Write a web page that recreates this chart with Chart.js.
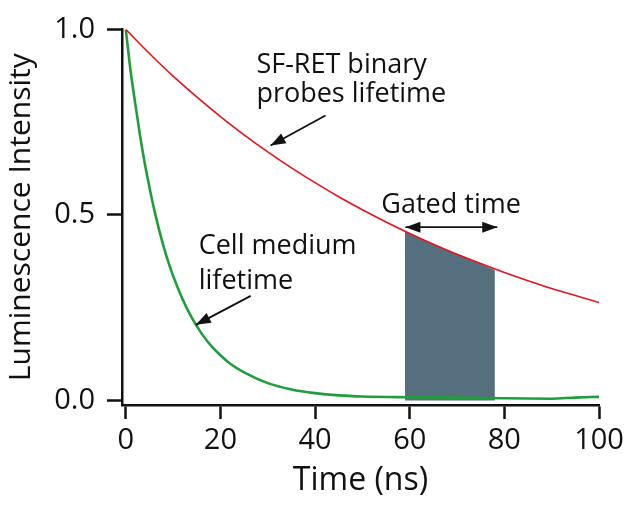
<!DOCTYPE html>
<html>
<head>
<meta charset="utf-8">
<script src="https://cdn.jsdelivr.net/npm/chart.js@4.4.1/dist/chart.umd.min.js"></script>
<style>
  html, body { margin: 0; padding: 0; background: #fff; }
</style>
</head>
<body>
<canvas id="myChart" width="632" height="507"></canvas>
<script>
// time axis (ns) and intensities
const probeTime = [0, 5, 10, 15, 20, 25, 30, 35, 40, 45, 50, 55, 60, 65, 70, 75, 80, 85, 90, 95, 100];
const probeIntensity = [1.0, 0.935, 0.874, 0.818, 0.765, 0.716, 0.67, 0.627, 0.587, 0.549, 0.514, 0.481, 0.45, 0.421, 0.394, 0.369, 0.345, 0.323, 0.302, 0.283, 0.264];

const mediumTime = [0, 1, 2, 3, 4, 5, 6, 7, 8, 9, 10, 12, 14, 16, 18, 20, 22, 25, 30, 35, 40, 45, 50, 60, 70, 80, 90, 95, 100];
const mediumIntensity = [1.0, 0.89, 0.8, 0.715, 0.64, 0.575, 0.515, 0.462, 0.415, 0.373, 0.336, 0.273, 0.222, 0.181, 0.148, 0.122, 0.1, 0.076, 0.047, 0.03, 0.02, 0.014, 0.011, 0.009, 0.008, 0.006, 0.005, 0.008, 0.01];

const gateTime = [59, 62, 65, 68, 71, 74, 78];
const gateIntensity = [0.456, 0.438, 0.421, 0.405, 0.388, 0.373, 0.352];

const xTicks = [0, 20, 40, 60, 80, 100];
const yTicks = [0.0, 0.5, 1.0];

const toPoints = (xs, ys) => xs.map((x, i) => ({ x: x, y: ys[i] }));

const ink = '#111111';
const fontFamily = '"Open Sans", "Noto Sans", sans-serif';

// text labels and arrows, placed in data coordinates
const notes = [
  { text: 'SF-RET binary', x: 27.6, y: 0.883 },
  { text: 'probes lifetime', x: 27.6, y: 0.804 },
  { text: 'Gated time', x: 54.0, y: 0.504 },
  { text: 'Cell medium', x: 15.4, y: 0.394 },
  { text: 'lifetime', x: 15.4, y: 0.30 }
];
const arrows = [
  { from: [42.2, 0.768], to: [30.6, 0.687], both: false },
  { from: [59.1, 0.467], to: [78.5, 0.467], both: true },
  { from: [26.4, 0.282], to: [14.8, 0.204], both: false }
];

function head(ctx, x1, y1, x2, y2) {
  const a = Math.atan2(y2 - y1, x2 - x1);
  const len = 15, w = 5.5;
  ctx.beginPath();
  ctx.moveTo(x2, y2);
  ctx.lineTo(x2 - len * Math.cos(a) + w * Math.sin(a), y2 - len * Math.sin(a) - w * Math.cos(a));
  ctx.lineTo(x2 - len * Math.cos(a) - w * Math.sin(a), y2 - len * Math.sin(a) + w * Math.cos(a));
  ctx.closePath();
  ctx.fill();
}

const annotations = {
  id: 'annotations',
  afterDatasetsDraw(chart) {
    const ctx = chart.ctx;
    const xs = chart.scales.x, ys = chart.scales.y;
    ctx.save();
    ctx.fillStyle = ink;
    ctx.strokeStyle = ink;
    ctx.font = '27px ' + fontFamily;
    ctx.textAlign = 'left';
    ctx.textBaseline = 'alphabetic';
    notes.forEach(n => {
      ctx.fillText(n.text, xs.getPixelForValue(n.x), ys.getPixelForValue(n.y));
    });
    ctx.lineWidth = 1.8;
    arrows.forEach(a => {
      const x1 = xs.getPixelForValue(a.from[0]), y1 = ys.getPixelForValue(a.from[1]);
      const x2 = xs.getPixelForValue(a.to[0]), y2 = ys.getPixelForValue(a.to[1]);
      ctx.beginPath();
      ctx.moveTo(x1, y1);
      ctx.lineTo(x2, y2);
      ctx.stroke();
      head(ctx, x1, y1, x2, y2);
      if (a.both) head(ctx, x2, y2, x1, y1);
    });
    ctx.restore();
  }
};

const ctx = document.getElementById('myChart');

new Chart(ctx, {
  type: 'line',
  data: {
    datasets: [
      {
        label: 'SF-RET binary probes lifetime',
        data: toPoints(probeTime, probeIntensity),
        borderColor: '#e3141c',
        borderWidth: 1.6,
        pointRadius: 0,
        fill: false,
        cubicInterpolationMode: 'monotone'
      },
      {
        label: 'Cell medium lifetime',
        data: toPoints(mediumTime, mediumIntensity),
        borderColor: '#1f9e3c',
        borderWidth: 2.6,
        pointRadius: 0,
        fill: false,
        cubicInterpolationMode: 'monotone'
      },
      {
        label: 'Gated time',
        data: toPoints(gateTime, gateIntensity),
        borderWidth: 0,
        borderColor: 'rgba(0,0,0,0)',
        backgroundColor: '#566f7e',
        pointRadius: 0,
        fill: 'origin',
        cubicInterpolationMode: 'monotone'
      }
    ]
  },
  options: {
    responsive: false,
    animation: false,
    devicePixelRatio: 1,
    layout: { padding: { top: 18, right: 33, left: 0, bottom: 0 } },
    plugins: {
      legend: { display: false },
      tooltip: { enabled: false }
    },
    scales: {
      x: {
        type: 'linear',
        min: -0.8,
        max: 100,
        afterFit: s => { s.height = 102; },
        afterBuildTicks: s => { s.ticks = xTicks.map(v => ({ value: v })); },
        grid: { display: true, drawOnChartArea: false, drawTicks: true, tickLength: 14, tickWidth: 2.5, tickColor: ink },
        border: { display: true, color: ink, width: 2.5 },
        ticks: { color: ink, padding: 4, maxRotation: 0, font: { family: fontFamily, size: 29 } },
        title: { display: true, text: 'Time (ns)', color: ink, padding: { top: 0, bottom: 7 }, font: { family: fontFamily, size: 32 } }
      },
      y: {
        type: 'linear',
        min: -0.012,
        max: 1.0,
        afterFit: s => { s.width = 122; },
        afterBuildTicks: s => { s.ticks = yTicks.map(v => ({ value: v })); },
        grid: { display: true, drawOnChartArea: false, drawTicks: true, tickLength: 15, tickWidth: 2.5, tickColor: ink },
        border: { display: true, color: ink, width: 2.5 },
        ticks: { color: ink, padding: 12, font: { family: fontFamily, size: 29 }, callback: v => v.toFixed(1) },
        title: { display: true, text: 'Luminescence Intensity', color: ink, padding: { top: 3, bottom: 0 }, font: { family: fontFamily, size: 30 } }
      }
    }
  },
  plugins: [annotations]
});
</script>
</body>
</html>
